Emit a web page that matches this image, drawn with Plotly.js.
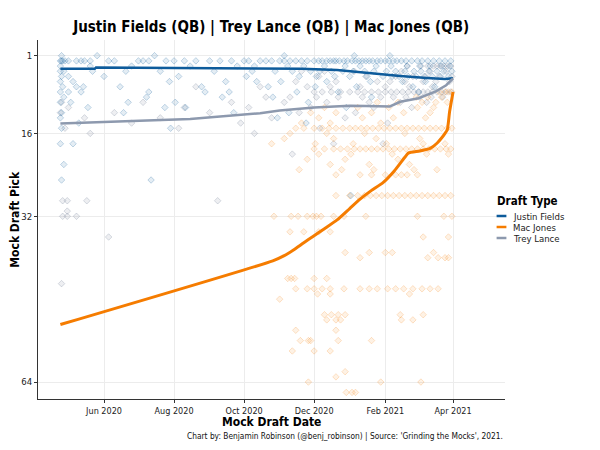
<!DOCTYPE html>
<html>
<head>
<meta charset="utf-8">
<script src="https://cdn.plot.ly/plotly-3.0.1.min.js"></script>
<style>
  body { margin: 0; background: #fff; }
  #chart { width: 600px; height: 450px; }
</style>
</head>
<body>
<div id="chart"></div>
<script>
// players and colours
var players = ["Justin Fields", "Mac Jones", "Trey Lance"];
var colors = ["#0d5b9b", "#f57c00", "#8d99ae"];
var fills = ["rgba(13,91,155,0.11)", "rgba(245,124,0,0.10)", "rgba(120,132,152,0.13)"];
var edges = ["rgba(13,91,155,0.30)", "rgba(245,124,0,0.26)", "rgba(120,132,152,0.36)"];

// trend lines
var fieldsLineDates = ["2020-04-24", "2020-05-24", "2020-05-25", "2020-10-31", "2020-11-20", "2020-12-21", "2021-01-10", "2021-01-27", "2021-02-14", "2021-03-09", "2021-03-25", "2021-04-01"];
var fieldsLinePicks = [3.5, 3.5, 3.3, 3.35, 3.5, 3.76, 4.2, 4.6, 4.9, 5.3, 5.5, 5.35];

var jonesLineDates = ["2020-04-24", "2020-10-26", "2020-11-05", "2020-11-13", "2020-11-22", "2020-11-30", "2020-12-10", "2020-12-21", "2021-01-01", "2021-01-10", "2021-01-20", "2021-01-30", "2021-02-09", "2021-02-18", "2021-02-21", "2021-03-03", "2021-03-12", "2021-03-18", "2021-03-22", "2021-03-25", "2021-03-27", "2021-03-29", "2021-04-01"];
var jonesLinePicks = [52.9, 40.6, 39.6, 38.5, 37.1, 35.9, 34.4, 32.7, 30.5, 28.7, 27.0, 25.5, 23.2, 20.6, 19.8, 19.4, 18.9, 17.9, 16.9, 16.0, 15.3, 11.8, 8.0];

var lanceLineDates = ["2020-04-24", "2020-07-01", "2020-08-15", "2020-10-15", "2020-11-01", "2020-12-01", "2021-01-01", "2021-01-15", "2021-02-05", "2021-02-14", "2021-03-02", "2021-03-17", "2021-03-26", "2021-04-01"];
var lanceLinePicks = [14.1, 13.6, 13.2, 12.1, 11.6, 11.0, 10.65, 10.7, 10.8, 9.9, 9.2, 7.9, 6.7, 5.4];

// individual mocks: [pick, [dates]]
var fieldsMocks = [
  [1, ["2020-04-25", "2020-05-26", "2020-07-15", "2020-11-05", "2021-01-05", "2021-02-05"]],
  [2, ["2020-04-24", "2020-04-25", "2020-04-26", "2020-04-28", "2020-05-01", "2020-05-08", "2020-05-12", "2020-05-15", "2020-05-20", "2020-06-05", "2020-06-10", "2020-07-01", "2020-07-05", "2020-07-10", "2020-07-25", "2020-08-01", "2020-08-10", "2020-08-20", "2020-09-01", "2020-09-10", "2020-09-20", "2020-10-01", "2020-10-05", "2020-10-15", "2020-10-20", "2020-10-25", "2020-11-01", "2020-11-05", "2020-11-10", "2020-11-15", "2020-11-20", "2020-11-25", "2020-12-01", "2020-12-05", "2020-12-08", "2020-12-12", "2020-12-15", "2020-12-18", "2020-12-20", "2020-12-23", "2020-12-27", "2020-12-30", "2021-01-03", "2021-01-06", "2021-01-09", "2021-01-12", "2021-01-15", "2021-01-18", "2021-01-21", "2021-01-25", "2021-01-28", "2021-02-01", "2021-02-04", "2021-02-08", "2021-02-11", "2021-02-15", "2021-02-19", "2021-02-24", "2021-03-01", "2021-03-05", "2021-03-10", "2021-03-15", "2021-03-20", "2021-03-25", "2021-03-30"]],
  [3, ["2020-04-24", "2020-05-20", "2020-06-25", "2020-08-15", "2020-09-25", "2020-10-10", "2020-11-08", "2020-11-22", "2020-12-10", "2020-12-28", "2021-01-10", "2021-01-24", "2021-02-06", "2021-02-20", "2021-03-03", "2021-03-12", "2021-03-22", "2021-03-29"]],
  [4, ["2020-04-24", "2020-04-27", "2020-05-22", "2020-06-20", "2020-07-20", "2020-09-05", "2020-10-08", "2020-10-28", "2020-11-12", "2020-11-28", "2020-12-06", "2020-12-16", "2020-12-26", "2021-01-04", "2021-01-14", "2021-01-22", "2021-02-02", "2021-02-10", "2021-02-18", "2021-02-26", "2021-03-04", "2021-03-11", "2021-03-18", "2021-03-24", "2021-03-31"]],
  [5, ["2020-04-25", "2020-05-01", "2020-06-01", "2020-08-05", "2020-10-03", "2020-11-18", "2020-12-03", "2020-12-19", "2021-01-01", "2021-01-16", "2021-01-30", "2021-02-07", "2021-02-13", "2021-02-21", "2021-02-28", "2021-03-07", "2021-03-14", "2021-03-21", "2021-03-28"]],
  [6, ["2020-04-24", "2020-05-05", "2020-07-28", "2020-09-15", "2020-10-12", "2020-11-02", "2020-12-12", "2021-01-19", "2021-02-16", "2021-03-08"]],
  [7, ["2020-04-26", "2020-05-08", "2020-05-14", "2020-06-15", "2020-08-25", "2020-10-22", "2020-12-02", "2021-01-07", "2021-02-25", "2021-03-16"]],
  [8, ["2020-04-24", "2020-05-01", "2020-05-12", "2020-07-10", "2020-08-28", "2020-09-18", "2020-11-16", "2020-12-22", "2021-03-02"]],
  [9, ["2020-04-27", "2020-07-08", "2020-09-12", "2020-10-26", "2021-01-20"]],
  [10, ["2020-04-24", "2020-05-03", "2020-06-22", "2020-08-02", "2020-11-26"]],
  [11, ["2020-05-18", "2020-07-24", "2020-08-11", "2020-12-29"]],
  [12, ["2020-04-25", "2020-06-18", "2020-09-22", "2020-11-09"]],
  [13, ["2020-04-24", "2020-10-30"]],
  [14, ["2020-05-10", "2020-11-24"]],
  [15, ["2020-04-25", "2020-07-29"]],
  [18, ["2020-04-24", "2020-05-05"]],
  [22, ["2020-04-27"]],
  [25, ["2020-04-25", "2020-07-12"]],
  [28, ["2021-01-02"]]
];

var lanceMocks = [
  [3, ["2021-02-20", "2021-03-04", "2021-03-10", "2021-03-15", "2021-03-18", "2021-03-21", "2021-03-24", "2021-03-27", "2021-03-30"]],
  [4, ["2020-11-20", "2020-12-10", "2021-01-05", "2021-02-15", "2021-03-12", "2021-03-26"]],
  [5, ["2020-12-05", "2021-01-15", "2021-02-10", "2021-02-25", "2021-03-08", "2021-03-20", "2021-03-31"]],
  [6, ["2020-11-15", "2020-12-20", "2021-01-25", "2021-02-05", "2021-02-18", "2021-03-06", "2021-03-17", "2021-03-29"]],
  [7, ["2020-08-20", "2020-10-15", "2020-11-25", "2020-12-15", "2021-01-10", "2021-02-01", "2021-02-22", "2021-03-14"]],
  [8, ["2020-12-01", "2020-12-08", "2020-12-16", "2020-12-24", "2021-01-01", "2021-01-08", "2021-01-14", "2021-01-20", "2021-01-26", "2021-02-01", "2021-02-06", "2021-02-11", "2021-02-16", "2021-02-21", "2021-02-26", "2021-03-02", "2021-03-06", "2021-03-10", "2021-03-14", "2021-03-18", "2021-03-22", "2021-03-26", "2021-03-30"]],
  [9, ["2020-10-20", "2020-11-10", "2020-12-03", "2020-12-22", "2021-01-12", "2021-01-28", "2021-02-08", "2021-02-19", "2021-03-03", "2021-03-13", "2021-03-23"]],
  [10, ["2020-04-25", "2020-07-05", "2020-09-20", "2020-11-05", "2020-12-12", "2021-01-18", "2021-02-14", "2021-03-09"]],
  [11, ["2020-05-01", "2020-08-10", "2020-10-05", "2020-11-28", "2021-01-22", "2021-02-24"]],
  [12, ["2020-04-24", "2020-06-10", "2020-09-01", "2020-11-18", "2021-01-06"]],
  [13, ["2020-05-15", "2020-07-20", "2020-10-25", "2020-12-28"]],
  [14, ["2020-06-25", "2020-09-28", "2021-02-03"]],
  [15, ["2020-04-28", "2020-08-05", "2020-12-06"]],
  [16, ["2020-05-20", "2020-10-10"]],
  [18, ["2020-12-18", "2021-01-30"]],
  [20, ["2020-11-12"]],
  [29, ["2020-04-26", "2020-04-30", "2020-05-17", "2020-09-08"]],
  [31, ["2020-04-30"]],
  [32, ["2020-04-26", "2020-04-30", "2020-05-08"]],
  [36, ["2020-06-05"]],
  [45, ["2020-04-25"]]
];

var jonesMocks = [
  [8, ["2021-03-20", "2021-03-25", "2021-03-28", "2021-03-31"]],
  [9, ["2021-02-28", "2021-03-10", "2021-03-22"]],
  [10, ["2021-01-25", "2021-02-12", "2021-03-05", "2021-03-17", "2021-03-27"]],
  [11, ["2020-12-10", "2021-01-08", "2021-02-04", "2021-03-01", "2021-03-15"]],
  [12, ["2020-11-28", "2020-12-20", "2021-01-20", "2021-02-17", "2021-03-12"]],
  [13, ["2020-12-05", "2021-01-12", "2021-02-08", "2021-03-08"]],
  [14, ["2020-11-20", "2020-12-15", "2021-01-28"]],
  [15, ["2020-11-15", "2020-11-22", "2020-12-01", "2020-12-08", "2020-12-14", "2020-12-20", "2020-12-26", "2021-01-01", "2021-01-06", "2021-01-11", "2021-01-16", "2021-01-21", "2021-01-26", "2021-01-31", "2021-02-05", "2021-02-10", "2021-02-15", "2021-02-20", "2021-02-25", "2021-03-02", "2021-03-07", "2021-03-12", "2021-03-17", "2021-03-22", "2021-03-27", "2021-03-31"]],
  [16, ["2020-11-10", "2020-12-12", "2021-01-14", "2021-02-18"]],
  [17, ["2020-11-05", "2020-12-18", "2021-01-24", "2021-03-03"]],
  [18, ["2020-10-25", "2020-12-02", "2021-01-04", "2021-02-02", "2021-03-06", "2021-03-25"]],
  [19, ["2020-12-01", "2020-12-10", "2020-12-18", "2020-12-24", "2020-12-30", "2021-01-05", "2021-01-10", "2021-01-15", "2021-01-20", "2021-01-25", "2021-01-30", "2021-02-04", "2021-02-09", "2021-02-14", "2021-02-19", "2021-02-24", "2021-03-01", "2021-03-06", "2021-03-11", "2021-03-16", "2021-03-21", "2021-03-26", "2021-03-30"]],
  [20, ["2020-12-05", "2021-01-02", "2021-02-07", "2021-03-09", "2021-03-28"]],
  [21, ["2020-11-25", "2020-12-28", "2021-02-12"]],
  [22, ["2020-12-15", "2021-01-18", "2021-02-22"]],
  [23, ["2020-11-18", "2020-12-25", "2021-01-22", "2021-02-26", "2021-03-18"]],
  [24, ["2020-12-20", "2021-01-10", "2021-01-20", "2021-02-01", "2021-02-10", "2021-02-15", "2021-02-20", "2021-03-01"]],
  [28, ["2020-12-20", "2021-01-01", "2021-01-08", "2021-01-14", "2021-01-19", "2021-01-24", "2021-01-29", "2021-02-03", "2021-02-08", "2021-02-13", "2021-02-18", "2021-02-23", "2021-02-28", "2021-03-05", "2021-03-10", "2021-03-15", "2021-03-20", "2021-03-25", "2021-03-30"]],
  [32, ["2020-10-27", "2020-11-11", "2020-11-17", "2020-11-25", "2020-11-30", "2020-12-03", "2020-12-07", "2020-12-18", "2020-12-27", "2021-01-15", "2021-03-01", "2021-03-24", "2021-03-31"]],
  [35, ["2020-11-10", "2020-11-22", "2020-12-05", "2020-12-15"]],
  [36, ["2021-03-06", "2021-03-28"]],
  [39, ["2020-12-28", "2021-01-18", "2021-02-01", "2021-02-07", "2021-03-15"]],
  [40, ["2021-01-10", "2021-03-10", "2021-03-19", "2021-03-25", "2021-03-28"]],
  [44, ["2020-11-08", "2020-11-11", "2020-11-14", "2020-12-01", "2020-12-12"]],
  [46, ["2020-11-15", "2020-11-25", "2020-12-01", "2020-12-08", "2020-12-15", "2020-12-27", "2021-01-10", "2021-01-18", "2021-01-25", "2021-02-03", "2021-02-10", "2021-02-17", "2021-02-25", "2021-03-05", "2021-03-12", "2021-03-19"]],
  [47, ["2020-12-04", "2020-12-15", "2021-02-22"]],
  [48, ["2020-11-01"]],
  [51, ["2020-12-10", "2020-12-16", "2020-12-22", "2020-12-28", "2021-02-14", "2021-03-06"]],
  [52, ["2020-12-12", "2020-12-20", "2020-12-24", "2021-02-15", "2021-02-25"]],
  [54, ["2020-11-15", "2020-12-20"]],
  [56, ["2020-11-19", "2020-11-26", "2020-11-28", "2020-12-22", "2021-01-20"]],
  [58, ["2020-11-12", "2020-12-01", "2020-12-15"]],
  [62, ["2020-12-28"]],
  [63, ["2020-12-20"]],
  [64, ["2020-11-26", "2021-01-28", "2021-03-04"]],
  [66, ["2020-12-29", "2021-01-03", "2021-01-06"]]
];

function unpack(rows) {
  var x = [], y = [];
  rows.forEach(function (r) {
    r[1].forEach(function (d) { x.push(d); y.push(r[0]); });
  });
  return {x: x, y: y};
}

var mockSets = [fieldsMocks, jonesMocks, lanceMocks];
var lineDates = [fieldsLineDates, jonesLineDates, lanceLineDates];
var linePicks = [fieldsLinePicks, jonesLinePicks, lanceLinePicks];

var data = [];
// points first so the lines sit on top
[2, 0, 1].forEach(function (i) {
  var pts = unpack(mockSets[i]);
  data.push({
    x: pts.x, y: pts.y,
    type: 'scatter', mode: 'markers',
    showlegend: false, hoverinfo: 'skip',
    marker: {symbol: 'diamond', size: 5, color: fills[i], line: {width: 0.8, color: edges[i]}}
  });
});
[0, 1, 2].forEach(function (i) {
  data.push({
    x: lineDates[i], y: linePicks[i],
    type: 'scatter', mode: 'lines',
    name: players[i], showlegend: false,
    line: {width: i == 1 ? 3 : 2.5, color: colors[i], shape: i == 1 ? 'spline' : 'linear', smoothing: 0.5}
  });
});

var font = '"DejaVu Sans Condensed", "DejaVu Sans", sans-serif';

// legend drawn as paper shapes + text so it can be as compact as the original
var shapes = [], notes = [];
notes.push({xref: 'paper', yref: 'paper', x: 0.979, y: (399 - 201) / 359, xanchor: 'left', yanchor: 'middle',
  showarrow: false, text: '<b>Draft Type</b>', font: {size: 11.5, color: '#000'}});
players.forEach(function (p, i) {
  var yy = (399 - (216 + i * 11)) / 359;
  shapes.push({type: 'line', xref: 'paper', yref: 'paper', x0: 0.982, x1: 1.003, y0: yy, y1: yy,
    line: {color: colors[i], width: 2.5}});
  notes.push({xref: 'paper', yref: 'paper', x: 1.013, y: yy, xanchor: 'left', yanchor: 'middle',
    showarrow: false, text: p, font: {size: 9.5, color: '#222'}});
});
notes.push({xref: 'paper', yref: 'paper', x: 0.5, y: -0.064, xanchor: 'center', yanchor: 'middle',
  showarrow: false, text: '<b>Mock Draft Date</b>', font: {size: 12, color: '#000'}});
notes.push({xref: 'paper', yref: 'paper', x: -0.051, y: 0.5, xanchor: 'center', yanchor: 'middle',
  textangle: -90, showarrow: false, text: '<b>Mock Draft Pick</b>', font: {size: 12, color: '#000'}});
notes.push({xref: 'paper', yref: 'paper', x: 1, y: -0.104, xanchor: 'right', yanchor: 'middle',
  showarrow: false, text: "Chart by: Benjamin Robinson (@benj_robinson) | Source: 'Grinding the Mocks', 2021.",
  font: {size: 8.3, color: '#111'}});

var layout = {
  width: 600, height: 450,
  margin: {l: 38, r: 95, t: 40, b: 51},
  paper_bgcolor: '#fff', plot_bgcolor: '#fff',
  font: {family: font, color: '#222'},
  title: {
    text: '<b>Justin Fields (QB) | Trey Lance (QB) | Mac Jones (QB)</b>',
    font: {size: 15, color: '#000'},
    x: 0.452, xanchor: 'center', y: 0.94, yanchor: 'middle'
  },
  xaxis: {
    type: 'date',
    range: ['2020-04-04 12:00', '2021-05-16 06:00'],
    tick0: '2020-06-01', dtick: 'M2', tickformat: '%b %Y',
    ticks: 'outside', ticklen: 3, tickcolor: '#333',
    tickfont: {size: 9, color: '#222'},
    showline: true, linecolor: '#333', linewidth: 1,
    showgrid: true, gridcolor: '#ececec', gridwidth: 1,
    zeroline: false
  },
  yaxis: {
    range: [67.27, -2.03],
    tickvals: [1, 16, 32, 64],
    ticks: 'outside', ticklen: 3, tickcolor: '#333',
    tickfont: {size: 9.5, color: '#222'},
    showline: true, linecolor: '#333', linewidth: 1,
    showgrid: true, gridcolor: '#ececec', gridwidth: 1,
    zeroline: false
  },
  showlegend: false,
  shapes: shapes,
  annotations: notes
};

Plotly.newPlot('chart', data, layout, {displayModeBar: false, staticPlot: true});
</script>
</body>
</html>
